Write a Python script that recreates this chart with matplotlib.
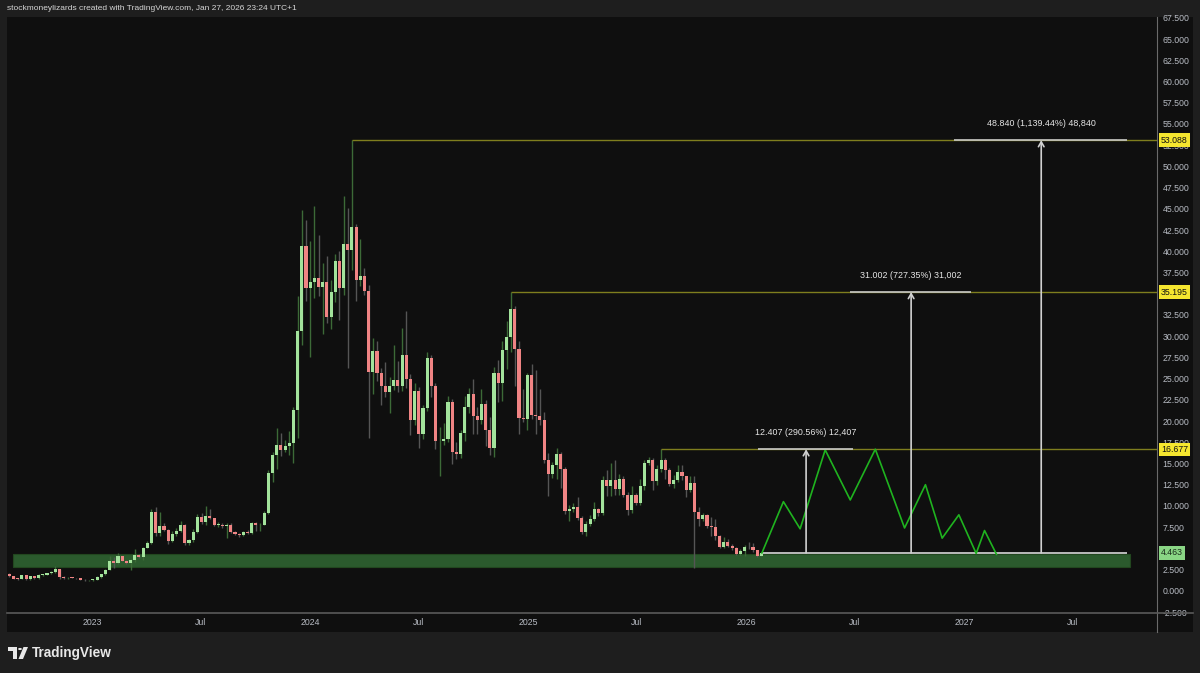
import matplotlib
matplotlib.use("Agg")
import matplotlib.pyplot as plt
import matplotlib.dates as mdates
import matplotlib.transforms as mtransforms
import numpy as np
import pandas as pd
from matplotlib.patches import Rectangle, Polygon, Circle
from matplotlib.lines import Line2D

plt.rcParams["font.family"] = ["Liberation Sans", "DejaVu Sans"]

# weekly candles, first week and first open
FIRST_WEEK = "2022-08-15"
OPEN0 = 1.96

CLOSE = [
    1.73, 1.42, 1.38, 1.81, 1.34, 1.73, 1.45, 1.85, 1.88, 2.08,
    2.16, 2.55, 1.62, 1.45, 1.55, 1.50, 1.45, 1.30, 1.22, 1.24,
    1.30, 1.62, 1.92, 2.47, 3.53, 3.26, 4.04, 3.53, 3.26, 3.61,
    4.20, 3.93, 5.07, 5.61, 9.27, 6.79, 7.66, 7.18, 5.89, 6.71,
    7.06, 7.77, 5.61, 5.93, 6.91, 8.68, 8.05, 8.76, 8.52, 7.77,
    7.80, 7.58, 7.70, 6.87, 6.71, 6.55, 6.98, 6.79, 7.97, 7.70,
    7.80, 9.15, 13.9, 16.0, 17.2, 16.6, 17.0, 17.4, 21.3, 30.6,
    40.6, 35.7, 36.4, 36.8, 35.8, 36.4, 32.2, 35.2, 38.9, 35.7,
    40.8, 40.2, 42.9, 36.6, 37.1, 35.3, 25.8, 28.3, 25.7, 24.1,
    23.4, 24.1, 24.8, 24.1, 27.8, 24.9, 20.1, 23.5, 18.5, 21.5,
    27.4, 24.1, 17.6, 17.7, 17.9, 22.3, 16.3, 16.1, 18.6, 21.6,
    23.2, 20.6, 20.1, 22.0, 18.9, 16.8, 25.6, 24.5, 28.4, 29.9,
    33.2, 28.5, 20.3, 20.2, 25.4, 20.7, 20.6, 20.1, 15.4, 13.7,
    14.8, 16.1, 14.3, 9.35, 9.6, 9.9, 8.6, 6.9, 7.9, 8.4,
    9.6, 9.15, 13.1, 12.3, 13.1, 12.0, 13.2, 11.3, 9.5, 11.3,
    10.4, 12.3, 15.0, 15.35, 12.9, 14.3, 15.35, 14.25, 12.6, 13.0,
    14.0, 13.5, 11.9, 12.7, 9.3, 8.4, 8.95, 7.66, 7.46, 6.4,
    5.2, 5.7, 5.3, 5.0, 4.36, 4.67, 5.15, 5.1, 4.75, 4.12,
    4.463,
]
HIGH = [
    2.05, 1.80, 1.50, 1.90, 1.88, 1.80, 1.78, 1.95, 2.00, 2.15,
    2.30, 2.94, 2.60, 1.70, 1.62, 1.60, 1.55, 1.50, 1.35, 1.30,
    1.36, 1.70, 2.00, 2.60, 4.12, 4.00, 4.51, 4.10, 3.60, 3.70,
    4.90, 4.30, 5.10, 5.90, 9.62, 9.86, 9.27, 8.00, 7.30, 7.10,
    7.40, 8.20, 7.90, 6.10, 7.30, 9.10, 9.20, 9.94, 9.66, 8.60,
    8.10, 7.95, 7.95, 8.00, 7.00, 6.80, 7.10, 7.20, 8.10, 8.10,
    8.00, 9.40, 14.2, 16.4, 19.2, 18.6, 17.8, 18.8, 21.6, 34.7,
    44.9, 43.7, 41.2, 45.3, 41.9, 38.6, 39.4, 36.6, 39.7, 40.0,
    46.5, 45.1, 53.088, 43.2, 41.4, 38.0, 36.0, 29.8, 29.4, 26.2,
    26.9, 25.2, 29.0, 27.1, 31.0, 33.0, 25.5, 24.5, 24.0, 21.9,
    28.1, 27.8, 24.5, 19.3, 19.8, 23.0, 22.6, 17.5, 19.0, 22.9,
    23.9, 24.9, 21.7, 23.8, 22.5, 20.5, 26.4, 27.2, 29.4, 31.8,
    35.195, 33.5, 29.4, 23.8, 25.7, 26.7, 26.0, 23.8, 21.1, 16.2,
    15.2, 16.8, 16.4, 14.6, 10.1, 10.3, 11.0, 8.8, 8.2, 8.95,
    10.5, 9.8, 13.5, 14.25, 15.0, 15.4, 13.7, 13.5, 11.6, 12.3,
    11.5, 13.2, 15.4, 15.75, 15.6, 14.8, 16.677, 15.6, 14.5, 13.6,
    14.8, 14.8, 13.5, 13.5, 13.5, 9.9, 9.2, 9.07, 8.75, 8.5,
    6.6, 6.3, 6.1, 5.5, 5.1, 4.9, 5.4, 5.8, 5.6, 4.85,
    4.6,
]
LOW = [
    1.65, 1.38, 1.32, 1.33, 1.30, 1.30, 1.40, 1.42, 1.78, 1.85,
    2.00, 2.10, 1.38, 1.40, 1.42, 1.45, 1.40, 1.26, 1.15, 1.15,
    1.18, 1.28, 1.55, 1.88, 2.40, 2.70, 3.20, 3.45, 3.10, 2.47,
    3.40, 3.85, 3.60, 5.00, 5.50, 6.50, 6.40, 7.00, 5.50, 5.80,
    6.40, 6.90, 5.40, 5.40, 5.80, 6.80, 7.90, 7.80, 8.40, 7.60,
    7.50, 7.40, 6.20, 6.80, 6.55, 6.30, 6.40, 6.70, 6.70, 7.00,
    7.00, 7.70, 9.00, 12.8, 14.3, 15.9, 16.3, 16.0, 15.0, 18.0,
    29.0, 34.1, 27.6, 34.5, 34.7, 30.3, 31.5, 30.9, 34.0, 31.9,
    34.8, 26.2, 37.8, 34.1, 35.9, 34.8, 18.0, 23.2, 24.7, 21.9,
    22.8, 21.0, 23.6, 23.4, 23.5, 23.9, 18.4, 19.5, 16.8, 17.9,
    21.2, 22.8, 16.7, 13.5, 17.2, 17.5, 14.9, 15.5, 15.6, 17.6,
    21.0, 18.5, 18.5, 19.6, 17.1, 16.0, 15.8, 22.3, 22.4, 26.1,
    28.1, 24.1, 18.5, 19.9, 19.0, 20.2, 18.5, 19.5, 15.0, 11.2,
    13.3, 13.2, 12.1, 9.0, 8.2, 9.3, 8.3, 6.7, 6.4, 7.6,
    8.2, 8.8, 8.9, 11.2, 11.2, 11.3, 11.3, 11.0, 8.95, 9.2,
    10.1, 10.1, 11.9, 14.8, 11.9, 12.5, 14.0, 13.2, 12.3, 12.1,
    12.8, 13.0, 11.1, 11.6, 2.67, 7.66, 8.2, 7.4, 6.4, 6.0,
    5.0, 5.0, 5.1, 4.8, 4.2, 4.2, 4.1, 4.9, 4.6, 4.0,
    4.05,
]

# horizontal resistance levels (start at the candle whose high made them)
LEVELS = [53.088, 35.195, 16.677]

# support zone
ZONE_LOW, ZONE_HIGH = 2.79, 4.36
ZONE_START, ZONE_END = "2022-08-21", "2027-10-05"

# measurement tool: base, targets, labels
BASE = 4.463
BASE_START, BASE_END = "2026-01-27", "2027-09-30"
MEASURE_DATES = ["2026-04-11", "2026-10-04", "2027-05-10"]
MEASURE_TARGETS = [16.677, 35.195, 53.088]
MEASURE_LABELS = ["12.407 (290.56%) 12,407", "31.002 (727.35%) 31,002",
                  "48.840 (1,139.44%) 48,840"]
MEASURE_TOPS = [("2026-01-21", "2026-06-29"), ("2026-06-24", "2027-01-13"),
                ("2026-12-15", "2027-09-30")]

# projected zigzag path
PATH_DATES = ["2026-01-27", "2026-03-04", "2026-04-01", "2026-05-13", "2026-06-24",
              "2026-08-05", "2026-09-23", "2026-10-28", "2026-11-25", "2026-12-23",
              "2027-01-21", "2027-02-04", "2027-02-24"]
PATH_VALUES = [4.46, 10.5, 7.3, 16.6, 10.7, 16.68, 7.4, 12.5, 6.2, 8.95, 4.4, 7.1, 4.3]

PRICE_TICKS = [v for v in np.arange(-2.5, 67.6, 2.5) if v != 35.0]  # 35.000 sits under a label
TICK_DATES = ["2023-01-01", "2023-07-01", "2024-01-01", "2024-07-01", "2025-01-01",
              "2025-07-01", "2026-01-01", "2026-07-01", "2027-01-01", "2027-07-01"]
TICK_LABELS = ["2023", "Jul", "2024", "Jul", "2025", "Jul", "2026", "Jul", "2027", "Jul"]

W, H = 1200, 673
BG = "#1e1e1e"
PANEL = "#0f0f0f"
TXT = "#b8bcc4"


def fx(x):
    return x / W


def fy(y):
    return 1 - y / H


fig = plt.figure(figsize=(12, 6.73), dpi=100)
fig.patch.set_facecolor(BG)

# dark chart panel incl. price & time scales
fig.add_artist(Rectangle((fx(7), fy(632)), fx(1193) - fx(7), fy(17) - fy(632),
                         transform=fig.transFigure, fc=PANEL, ec="none", zorder=0))

ax = fig.add_axes([fx(7), fy(612), fx(1157) - fx(7), fy(17) - fy(612)])
ax.set_facecolor(PANEL)
for s in ax.spines.values():
    s.set_visible(False)

dates = mdates.date2num(pd.date_range(FIRST_WEEK, periods=len(CLOSE), freq="7D"))
opens = [OPEN0] + CLOSE[:-1]
up = [c >= o for o, c in zip(opens, CLOSE)]

wick_col = ["#3c6a37" if u else "#555555" for u in up]
body_col = ["#a3e39c" if u else "#f08484" for u in up]
bottoms = [min(o, c) for o, c in zip(opens, CLOSE)]
heights = [max(abs(c - o), 0.09) for o, c in zip(opens, CLOSE)]

# support zone
z0, z1 = mdates.datestr2num(ZONE_START), mdates.datestr2num(ZONE_END)
ax.add_patch(Rectangle((z0, ZONE_LOW), z1 - z0, ZONE_HIGH - ZONE_LOW,
                       fc="#2b5a2d", ec="#22471f", lw=0.8, zorder=1))

ax.vlines(dates, LOW, HIGH, colors=wick_col, lw=1.0, zorder=3)
ax.bar(dates, heights, width=5.2, bottom=bottoms, color=body_col, lw=0, zorder=4)

xmin = mdates.datestr2num("2022-08-11")
xmax = mdates.datestr2num("2027-11-20")
ax.set_xlim(xmin, xmax)
ax.set_ylim(-2.47, 67.6)

# resistance levels
for lvl in LEVELS:
    start = dates[HIGH.index(lvl)]
    ax.hlines(lvl, start, xmax, color="#7f7e1e", lw=1.0, zorder=5)

# base line of measurements
ax.hlines(BASE, mdates.datestr2num(BASE_START), mdates.datestr2num(BASE_END),
          color="#d8d8d8", lw=1.2, zorder=6)

# projection zigzag
ax.plot(mdates.datestr2num(PATH_DATES), PATH_VALUES, color="#1fb31f", lw=1.2, zorder=6)

# measurement arrows
for d, tgt, lab, (t0, t1) in zip(MEASURE_DATES, MEASURE_TARGETS, MEASURE_LABELS, MEASURE_TOPS):
    x = mdates.datestr2num(d)
    ax.hlines(tgt, mdates.datestr2num(t0), mdates.datestr2num(t1),
              color="#c8c8c8", lw=1.2, zorder=6)
    ax.annotate("", xy=(x, tgt), xytext=(x, BASE),
                arrowprops=dict(arrowstyle="->,head_length=0.35,head_width=0.2",
                                color="#d0d0d0", lw=1.2, shrinkA=0, shrinkB=0),
                zorder=7)
    ax.annotate(lab, xy=(x, tgt), xytext=(0, 12), textcoords="offset points",
                ha="center", va="center", fontsize=6.4, color="#e6e6e6", zorder=8)

# price scale
ax.yaxis.tick_right()
ax.set_yticks(PRICE_TICKS)
ax.yaxis.set_major_formatter(matplotlib.ticker.FuncFormatter(lambda v, p: f"{v:.3f}"))
ax.tick_params(axis="y", length=0, pad=4, labelsize=6.3, labelcolor=TXT)

ax.set_xticks(mdates.datestr2num(TICK_DATES))
ax.set_xticklabels(TICK_LABELS)
ax.tick_params(axis="x", length=0, pad=4, labelsize=6.3, labelcolor=TXT)

# price labels on the scale
bt = mtransforms.blended_transform_factory(ax.transAxes, ax.transData)
for lvl in LEVELS:
    ax.text(1.0 + 4 / 1150, lvl, f"{lvl:.3f}", transform=bt, ha="left", va="center",
            fontsize=6.3, color="#111111", clip_on=False, zorder=20,
            bbox=dict(boxstyle="square,pad=0.25", fc="#f5e62f", ec="none"))
ax.text(1.0 + 4 / 1150, BASE, f"{BASE:.3f}", transform=bt, ha="left", va="center",
        fontsize=6.3, color="#1a2a1a", clip_on=False, zorder=20,
        bbox=dict(boxstyle="square,pad=0.25", fc="#8ad685", ec="none"))

# separators of price and time scales
fig.add_artist(Line2D([fx(1157), fx(1157)], [fy(17), fy(632)], transform=fig.transFigure,
                      color="#6a6a6a", lw=0.8))
fig.add_artist(Line2D([fx(7), fx(1193)], [fy(613), fy(613)], transform=fig.transFigure,
                      color="#5a5a5a", lw=1.2))

# header and footer
fig.text(fx(7), fy(9), "stockmoneylizards created with TradingView.com, Jan 27, 2026 23:24 UTC+1",
         ha="left", va="center", fontsize=6.0, color="#d6d6d6")

logo_col = "#e8e8e8"
fig.add_artist(Polygon([(fx(8), fy(647)), (fx(17), fy(647)), (fx(17), fy(659)),
                        (fx(13), fy(659)), (fx(13), fy(651)), (fx(8), fy(651))],
                       closed=True, transform=fig.transFigure, fc=logo_col, ec="none"))
fig.add_artist(Circle((fx(20), fy(649)), 1.9 / W, transform=fig.transFigure,
                      fc=logo_col, ec="none"))
fig.add_artist(Polygon([(fx(23.5), fy(647)), (fx(28), fy(647)), (fx(23), fy(659)),
                        (fx(18.5), fy(659))],
                       closed=True, transform=fig.transFigure, fc=logo_col, ec="none"))
fig.text(fx(32), fy(653), "TradingView", ha="left", va="center", fontsize=9.8,
         fontweight="bold", color=logo_col)

fig.savefig("out.png", dpi=100, facecolor=BG)
